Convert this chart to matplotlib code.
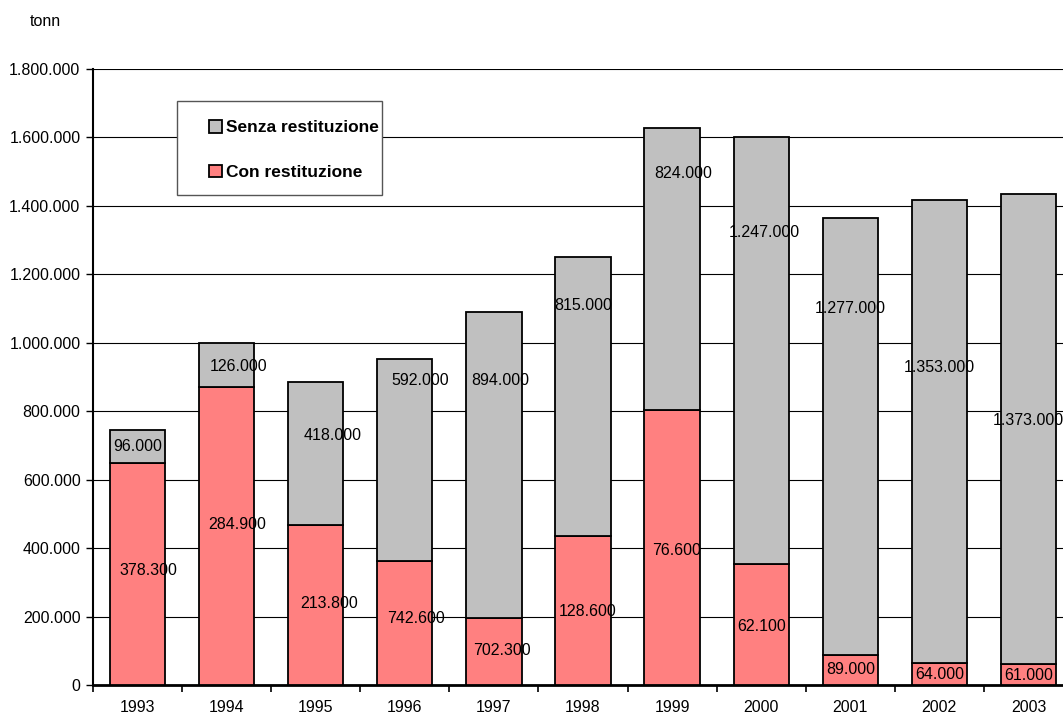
import numpy as np
import matplotlib.pyplot as plt
from matplotlib.patches import Rectangle
from matplotlib.ticker import FuncFormatter, FixedLocator

plt.rcParams['font.family'] = ['Liberation Sans', 'DejaVu Sans']

years = ["1993", "1994", "1995", "1996", "1997", "1998", "1999", "2000", "2001", "2002", "2003"]
# tonnellate
con_restituzione = [649000, 872000, 468000, 361000, 196000, 436000, 804000, 355000, 89000, 64000, 61000]
senza_restituzione = [96000, 126000, 418000, 592000, 894000, 815000, 824000, 1247000, 1277000, 1353000, 1373000]
con_labels = ["378.300", "284.900", "213.800", "742.600", "702.300", "128.600",
              "76.600", "62.100", "89.000", "64.000", "61.000"]

# where each value label sits (x shift from bar centre, height in tonn)
senza_lab_dx = [0.0, 0.13, 0.19, 0.17, 0.07, 0.0, 0.12, 0.04, 0.0, 0.0, 0.0]
senza_lab_y = [696000, 930000, 728000, 889000, 889000, 1110000, 1495000, 1322000, 1099000, 927000, 774000]
con_lab_dx = [0.12, 0.12, 0.15, 0.13, 0.09, 0.05, 0.05, 0.0, 0.0, 0.0, 0.0]
con_lab_y = [336000, 470000, 239000, 195000, 102000, 214000, 394000, 170000, 46000, 32000, 29000]

def punti(v, pos=None):
    return f"{int(v):,}".replace(",", ".")

W, H = 1063, 713
fig = plt.figure(figsize=(W / 100, H / 100), dpi=100)
ax = fig.add_axes([93/W, 28/H, 980/W, 616/H])

x = np.arange(len(years))
w = 0.62
b1 = ax.bar(x, con_restituzione, w, color="#FF8080", edgecolor="black", linewidth=1.3,
            label="Con restituzione", zorder=3)
b2 = ax.bar(x, senza_restituzione, w, bottom=con_restituzione, color="#C0C0C0",
            edgecolor="black", linewidth=1.3, label="Senza restituzione", zorder=3)

for i in range(len(years)):
    ax.text(x[i] + con_lab_dx[i], con_lab_y[i], con_labels[i], ha="center", va="center",
            fontsize=11.5, zorder=4)
    ax.text(x[i] + senza_lab_dx[i], senza_lab_y[i], punti(senza_restituzione[i]),
            ha="center", va="center", fontsize=11.5, zorder=4)

ax.set_xlim(-0.5, len(years) - 0.5)
ax.set_ylim(0, 1800000)
ax.set_yticks(np.arange(0, 1800001, 200000))
ax.yaxis.set_major_formatter(FuncFormatter(punti))
ax.yaxis.grid(True, color="black", linewidth=0.8, zorder=0)

# tick marks between the categories, labels at the centres
ax.xaxis.set_major_locator(FixedLocator(np.arange(-0.5, len(years), 1.0)))
ax.xaxis.set_major_formatter(FuncFormatter(lambda v, p: ""))
ax.xaxis.set_minor_locator(FixedLocator(x))
ax.set_xticklabels(years, minor=True)
ax.tick_params(axis="x", which="major", direction="out", length=5, width=1.2)
ax.tick_params(axis="x", which="minor", length=0, pad=10.5, labelsize=11.5)
ax.tick_params(axis="y", direction="out", length=5, width=1.0, labelsize=11.5, pad=4)

for s in ["top", "right"]:
    ax.spines[s].set_visible(False)
ax.spines["left"].set_linewidth(1.5)
ax.spines["bottom"].set_linewidth(2)

fig.text(30/W, 1 - 22/H, "tonn", fontsize=11.5, va="center", ha="left")

# legend box
fig.patches.append(Rectangle((177/W, 1 - 195/H), 205/W, 94/H, transform=fig.transFigure,
                             facecolor="white", edgecolor="#555555", linewidth=1.0, zorder=5))
leg = fig.legend(handles=[b2, b1], loc="upper left", bbox_to_anchor=(209/W, 1 - 120/H),
                 prop={"weight": "bold", "size": 12.5}, frameon=False,
                 handlelength=0.75, handleheight=0.75, handletextpad=0.25,
                 labelspacing=1.68, borderpad=0, borderaxespad=0)
leg.set_zorder(6)

plt.savefig("out.png", dpi=100)
